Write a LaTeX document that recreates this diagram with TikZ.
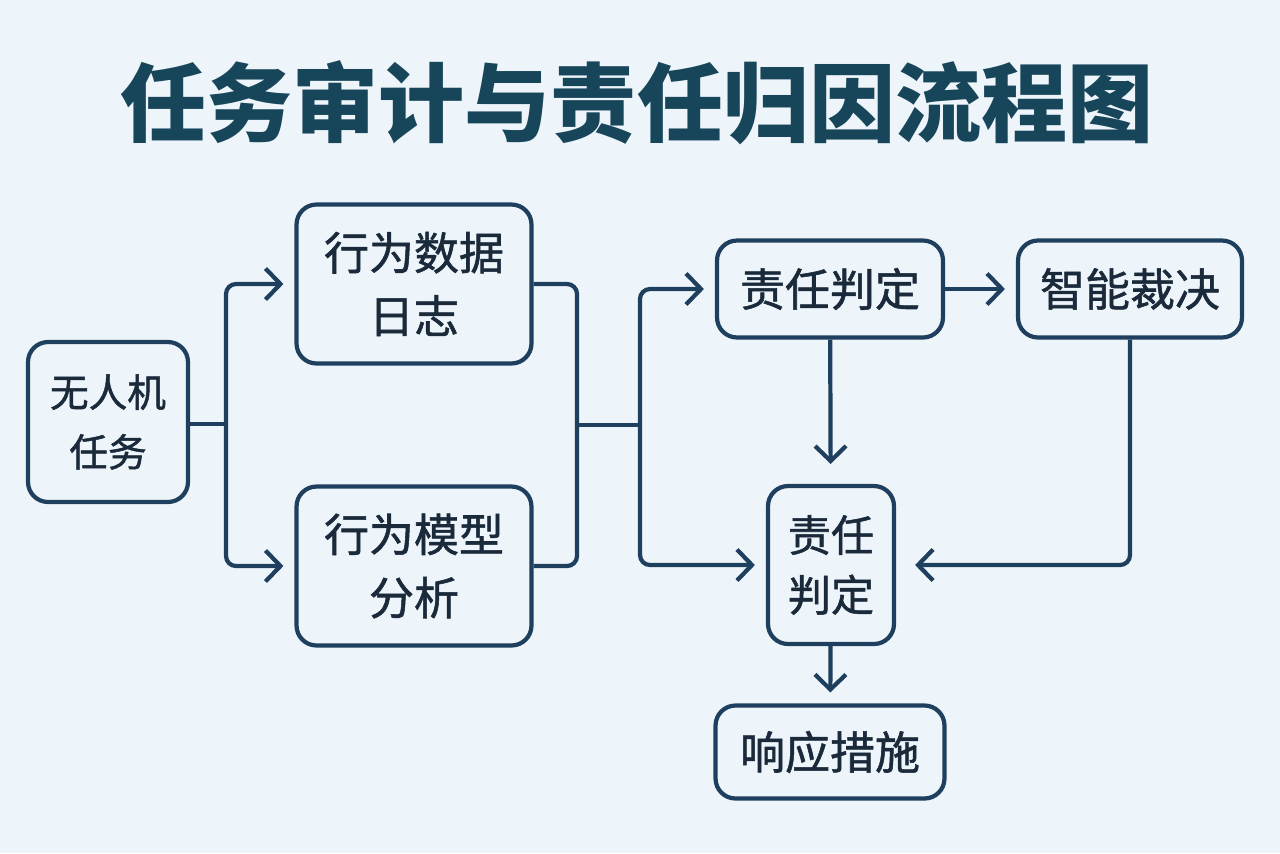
\documentclass[tikz,border=0pt]{standalone}
\usepackage{fontspec}
\setmainfont{Noto Sans CJK SC}
\newfontfamily\boxfont{Noto Sans CJK SC}[FakeBold=1.2]
\usetikzlibrary{arrows.meta}
\definecolor{bgcol}{HTML}{EEF5FA}
\definecolor{linecol}{HTML}{1F3F5E}
\definecolor{textcol}{HTML}{1A2A3B}
\definecolor{titlecol}{HTML}{17455A}
\tikzset{
  box/.style={draw=linecol, line width=2.4pt, rounded corners=0.4cm,
    align=center, text=textcol, inner sep=0pt,
    font=\boxfont\fontsize{25.6}{36}\selectfont},
  conn/.style={draw=linecol, line width=2.4pt, rounded corners=0.2cm},
  flow/.style={conn, -{Straight Barb[length=0.3cm,width=0.62cm]},
    shorten >=0.22cm}
}
\begin{document}
\begin{tikzpicture}[x=0.02cm, y=-0.02cm]
    \useasboundingbox[fill=bgcol] (0,0) rectangle (1280,853);
    \node (T) at (637,103) {\fontsize{49}{56}\selectfont\bfseries\color{titlecol}任务审计与责任归因流程图};
    \node[box, minimum width=3.2cm, minimum height=3.2cm, font=\boxfont\fontsize{22}{34}\selectfont] (A0_0) at (108,422) {无人机\\任务};
    \node[box, minimum width=4.7cm, minimum height=3.18cm] (A0_1) at (414,284) {行为数据\\日志};
    \node[box, minimum width=4.7cm, minimum height=3.18cm] (A1_1) at (414,566) {行为模型\\分析};
    \node[box, minimum width=4.52cm, minimum height=1.94cm] (A0_2) at (830,289) {责任判定};
    \node[box, minimum width=4.48cm, minimum height=1.94cm] (A0_3) at (1130,289) {智能裁决};
    \node[box, minimum width=2.52cm, minimum height=3.16cm, font=\boxfont\fontsize{24.5}{34}\selectfont] (A1_2) at (831,565) {责任\\判定};
    \node[box, minimum width=4.58cm, minimum height=1.86cm] (A2_2) at (830,752) {响应措施};
    \coordinate (S0) at (226,424);
    \coordinate (S1) at (577,425);
    \coordinate (S2) at (640,425);
    \draw[conn] (A0_0.east |- S0) -- (S0);
    \draw[flow] (S0) |- (A0_1.west);
    \draw[flow] (S0) |- (A1_1.west);
    \draw[conn] (A0_1.east) -| (S1) |- (A1_1.east);
    \draw[conn] (S1) -- (S2);
    \draw[flow] (S2) |- (A0_2.west);
    \draw[flow] (S2) |- (A1_2.west);
    \path (A0_2) edge [flow] (A0_3);
    \path (A0_2) edge [flow, shorten >=0.4cm] (A1_2);
    \draw[flow, shorten >=0.38cm] (A0_3.south) |- (A1_2.east);
    \path (A1_2) edge [flow] (A2_2);
\end{tikzpicture}
\end{document}
